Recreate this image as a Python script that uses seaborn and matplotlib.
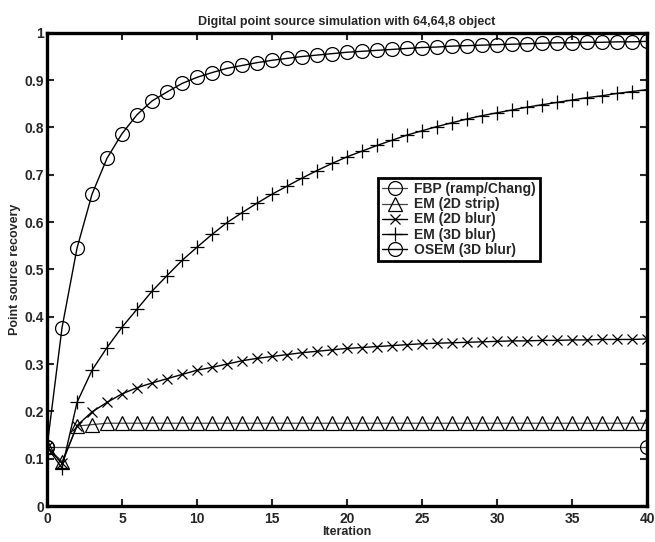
import numpy as np
import matplotlib
matplotlib.use("Agg")
import matplotlib.pyplot as plt
import pandas as pd
import seaborn as sns

# data
iteracion = list(range(0, 41))

fbp_x = [0, 40]
fbp_y = [0.125, 0.125]

em_2d_strip = [0.125, 0.094, 0.169, 0.172] + [0.175] * 37

em_2d_blur = [0.125, 0.090, 0.170, 0.199, 0.219, 0.237, 0.250, 0.260, 0.269, 0.278,
              0.287, 0.293, 0.300, 0.307, 0.312, 0.316, 0.320, 0.324, 0.327, 0.330,
              0.333, 0.335, 0.337, 0.339, 0.341, 0.343, 0.344, 0.345, 0.346, 0.347,
              0.348, 0.349, 0.349, 0.350, 0.350, 0.351, 0.351, 0.352, 0.352, 0.352,
              0.353]

em_3d_blur = [0.125, 0.080, 0.219, 0.287, 0.335, 0.378, 0.416, 0.454, 0.487, 0.519,
              0.547, 0.574, 0.599, 0.620, 0.640, 0.659, 0.676, 0.693, 0.709, 0.724,
              0.738, 0.750, 0.762, 0.773, 0.784, 0.793, 0.802, 0.810, 0.818, 0.825,
              0.831, 0.837, 0.843, 0.848, 0.853, 0.858, 0.863, 0.867, 0.872, 0.876,
              0.880]

osem_3d_blur = [0.125, 0.377, 0.545, 0.659, 0.735, 0.787, 0.827, 0.856, 0.875, 0.893,
                0.906, 0.916, 0.925, 0.931, 0.937, 0.942, 0.946, 0.950, 0.953, 0.956,
                0.959, 0.961, 0.963, 0.965, 0.967, 0.969, 0.970, 0.972, 0.973, 0.974,
                0.975, 0.976, 0.977, 0.978, 0.979, 0.979, 0.980, 0.980, 0.981, 0.981,
                0.982]

etiquetas = ["FBP (ramp/Chang)", "EM (2D strip)", "EM (2D blur)", "EM (3D blur)", "OSEM (3D blur)"]

sns.set_theme(style="ticks")
plt.rcParams['font.family'] = ['Liberation Sans', 'DejaVu Sans']
plt.rcParams['font.weight'] = 'bold'
plt.rcParams['xtick.direction'] = 'in'
plt.rcParams['ytick.direction'] = 'in'

fig = plt.figure(figsize=(6.55, 5.42), dpi=100)
ax = fig.add_axes([0.0718, 0.0664, 0.916, 0.873])

comun = dict(color="black", markerfacecolor="none", markeredgecolor="black",
             markeredgewidth=0.9, ax=ax, estimator=None)

sns.lineplot(x=fbp_x, y=fbp_y, marker="o", markersize=10, linewidth=0.9,
             label=etiquetas[0], **{**comun, "color": "#444444"})
sns.lineplot(x=iteracion, y=em_2d_strip, marker="^", markersize=10, linewidth=0.9,
             label=etiquetas[1], **{**comun, "color": "#444444"})
sns.lineplot(x=iteracion, y=em_2d_blur, marker="x", markersize=7, linewidth=1.0,
             label=etiquetas[2], **comun)
sns.lineplot(x=iteracion, y=em_3d_blur, marker="+", markersize=10, linewidth=1.0,
             label=etiquetas[3], **comun)
sns.lineplot(x=iteracion, y=osem_3d_blur, marker="o", markersize=10, linewidth=1.0,
             label=etiquetas[4], **comun)

ax.set_xlim(0, 40)
ax.set_ylim(0, 1)
ax.set_xticks(range(0, 41, 5))
ax.set_yticks(np.round(np.arange(0, 1.01, 0.1), 1))
ax.set_yticklabels(["0", "0.1", "0.2", "0.3", "0.4", "0.5", "0.6", "0.7", "0.8", "0.9", "1"])
ax.tick_params(which="both", top=True, right=True, length=5, width=1.5,
               labelsize=10, pad=2)
ax.tick_params(axis="x", pad=4)
for lab in ax.get_xticklabels() + ax.get_yticklabels():
    lab.set_fontweight("bold")
for s in ax.spines.values():
    s.set_linewidth(2.4)
    s.set_color("black")

ax.set_xlabel("Iteration", fontsize=9, fontweight="bold", labelpad=0)
ax.set_ylabel("Point source recovery", fontsize=9, fontweight="bold", labelpad=3)
ax.set_title("Digital point source simulation with 64,64,8 object", fontsize=9,
             fontweight="bold", pad=6)

leg = ax.legend(loc="upper left", bbox_to_anchor=(0.552, 0.693), borderaxespad=0,
                fancybox=False, framealpha=1, edgecolor="black", fontsize=10,
                handlelength=1.8, handletextpad=0.5, labelspacing=0.08,
                borderpad=0.3)
leg.get_frame().set_linewidth(2)
for t in leg.get_texts():
    t.set_fontweight("bold")

fig.savefig("out.png", dpi=100)
